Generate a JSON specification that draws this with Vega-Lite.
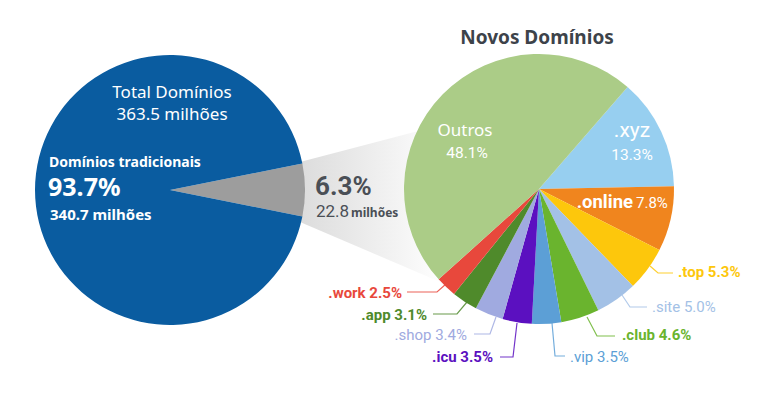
{
  "$schema": "https://vega.github.io/schema/vega-lite/v6.json",
  "width": 768,
  "height": 393,
  "autosize": {"type": "fit", "contains": "padding"},
  "padding": 0,
  "background": "#ffffff",
  "config": {"view": {"stroke": null}},
  "resolve": {"scale": {"theta": "independent"}},
  "layer": [
    {
      "data": {"values": [
        {"fx": 300, "top": 162, "bottom": 222},
        {"fx": 445, "top": 124, "bottom": 284}
      ]},
      "mark": {"type": "area", "color": {"gradient": "linear", "x1": 0, "x2": 1, "y1": 0, "y2": 0, "stops": [{"offset": 0, "color": "#dcdcdc"}, {"offset": 0.8, "color": "#f8f8f8"}, {"offset": 1, "color": "#ffffff"}]}},
      "encoding": {
        "x": {"field": "fx", "type": "quantitative", "scale": {"domain": [0, 768], "nice": false, "zero": false}, "axis": null},
        "y": {"field": "top", "type": "quantitative", "scale": {"domain": [0, 393], "nice": false, "zero": false, "reverse": true}, "axis": null},
        "y2": {"field": "bottom"}
      }
    },
    {
      "data": {"values": [
        {"tld": "Novos", "value": 6.3, "ord": 1},
        {"tld": "Tradicionais", "value": 93.7, "ord": 2}
      ]},
      "mark": {"type": "arc", "outerRadius": 135},
      "encoding": {
        "x": {"datum": 170, "type": "quantitative", "stack": null, "scale": {"domain": [0, 768], "nice": false, "zero": false}, "axis": null},
        "y": {"datum": 190, "type": "quantitative", "stack": null, "scale": {"domain": [0, 393], "nice": false, "zero": false, "reverse": true}, "axis": null},
        "theta": {"field": "value", "type": "quantitative", "stack": true, "scale": {"range": [1.3729, 7.6561]}},
        "order": {"field": "ord", "type": "quantitative"},
        "color": {"field": "tld", "type": "nominal", "legend": null, "scale": {"domain": [".xyz", ".online", ".top", ".site", ".club", ".vip", ".icu", ".shop", ".app", ".work", "Outros", "Novos", "Tradicionais"], "range": ["#97cff0", "#f0851e", "#fdc70c", "#a3c1e6", "#6ab42e", "#5c9fd6", "#5b10c0", "#a0aae0", "#4f8a2b", "#e8483c", "#abcc87", "#9d9d9d", "#0a5ca0"]}}
      }
    },
    {
      "data": {"values": [
        {"tld": ".xyz", "value": 13.3, "ord": 1},
        {"tld": ".online", "value": 7.8, "ord": 2},
        {"tld": ".top", "value": 5.3, "ord": 3},
        {"tld": ".site", "value": 5.0, "ord": 4},
        {"tld": ".club", "value": 4.6, "ord": 5},
        {"tld": ".vip", "value": 3.5, "ord": 6},
        {"tld": ".icu", "value": 3.5, "ord": 7},
        {"tld": ".shop", "value": 3.4, "ord": 8},
        {"tld": ".app", "value": 3.1, "ord": 9},
        {"tld": ".work", "value": 2.5, "ord": 10},
        {"tld": "Outros", "value": 48.1, "ord": 11}
      ]},
      "mark": {"type": "arc", "outerRadius": 135},
      "encoding": {
        "x": {"datum": 539, "type": "quantitative", "stack": null, "scale": {"domain": [0, 768], "nice": false, "zero": false}, "axis": null},
        "y": {"datum": 189, "type": "quantitative", "stack": null, "scale": {"domain": [0, 393], "nice": false, "zero": false, "reverse": true}, "axis": null},
        "theta": {"field": "value", "type": "quantitative", "stack": true, "scale": {"range": [0.7156, 6.9988]}},
        "order": {"field": "ord", "type": "quantitative"},
        "color": {"field": "tld", "type": "nominal", "legend": null, "scale": {"domain": [".xyz", ".online", ".top", ".site", ".club", ".vip", ".icu", ".shop", ".app", ".work", "Outros", "Novos", "Tradicionais"], "range": ["#97cff0", "#f0851e", "#fdc70c", "#a3c1e6", "#6ab42e", "#5c9fd6", "#5b10c0", "#a0aae0", "#4f8a2b", "#e8483c", "#abcc87", "#9d9d9d", "#0a5ca0"]}}
      }
    },
    {
      "data": {"values": [
        {"tld": ".work", "i": 1, "px": 407, "py": 292}, {"tld": ".work", "i": 2, "px": 437, "py": 292}, {"tld": ".work", "i": 3, "px": 446, "py": 284},
        {"tld": ".app", "i": 1, "px": 433, "py": 314}, {"tld": ".app", "i": 2, "px": 457, "py": 314}, {"tld": ".app", "i": 3, "px": 467, "py": 302},
        {"tld": ".shop", "i": 1, "px": 474, "py": 334}, {"tld": ".shop", "i": 2, "px": 490, "py": 334}, {"tld": ".shop", "i": 3, "px": 496, "py": 317},
        {"tld": ".icu", "i": 1, "px": 500, "py": 357}, {"tld": ".icu", "i": 2, "px": 513, "py": 357}, {"tld": ".icu", "i": 3, "px": 517, "py": 323},
        {"tld": ".top", "i": 1, "px": 673, "py": 273}, {"tld": ".top", "i": 2, "px": 658, "py": 273}, {"tld": ".top", "i": 3, "px": 650, "py": 266},
        {"tld": ".site", "i": 1, "px": 647, "py": 307}, {"tld": ".site", "i": 2, "px": 630, "py": 307}, {"tld": ".site", "i": 3, "px": 622, "py": 295},
        {"tld": ".club", "i": 1, "px": 615, "py": 336}, {"tld": ".club", "i": 2, "px": 597, "py": 336}, {"tld": ".club", "i": 3, "px": 587, "py": 317},
        {"tld": ".vip", "i": 1, "px": 565, "py": 356}, {"tld": ".vip", "i": 2, "px": 555, "py": 356}, {"tld": ".vip", "i": 3, "px": 552, "py": 323}
      ]},
      "mark": {"type": "line", "strokeWidth": 1.2, "opacity": 0.85},
      "encoding": {
        "x": {"field": "px", "type": "quantitative", "scale": {"domain": [0, 768], "nice": false, "zero": false}, "axis": null},
        "y": {"field": "py", "type": "quantitative", "scale": {"domain": [0, 393], "nice": false, "zero": false, "reverse": true}, "axis": null},
        "order": {"field": "i", "type": "quantitative"},
        "detail": {"field": "tld"},
        "color": {"field": "tld", "type": "nominal", "legend": null, "scale": {"domain": [".xyz", ".online", ".top", ".site", ".club", ".vip", ".icu", ".shop", ".app", ".work", "Outros", "Novos", "Tradicionais"], "range": ["#97cff0", "#f0851e", "#fdc70c", "#a3c1e6", "#6ab42e", "#5c9fd6", "#5b10c0", "#a0aae0", "#4f8a2b", "#e8483c", "#abcc87", "#9d9d9d", "#0a5ca0"]}}
      }
    },
    {
      "data": {"values": [
        {"label": ".work 2.5%", "tld": ".work", "lx": 402, "ly": 293},
        {"label": ".app 3.1%", "tld": ".app", "lx": 427, "ly": 315},
        {"label": ".icu 3.5%", "tld": ".icu", "lx": 493, "ly": 357}
      ]},
      "mark": {"type": "text", "align": "right", "baseline": "middle", "font": "Roboto", "fontSize": 15, "fontWeight": "bold"},
      "encoding": {
        "x": {"field": "lx", "type": "quantitative", "scale": {"domain": [0, 768], "nice": false, "zero": false}, "axis": null},
        "y": {"field": "ly", "type": "quantitative", "scale": {"domain": [0, 393], "nice": false, "zero": false, "reverse": true}, "axis": null},
        "text": {"field": "label"},
        "color": {"field": "tld", "type": "nominal", "legend": null, "scale": {"domain": [".xyz", ".online", ".top", ".site", ".club", ".vip", ".icu", ".shop", ".app", ".work", "Outros", "Novos", "Tradicionais"], "range": ["#97cff0", "#f0851e", "#fdc70c", "#a3c1e6", "#6ab42e", "#5c9fd6", "#5b10c0", "#a0aae0", "#4f8a2b", "#e8483c", "#abcc87", "#9d9d9d", "#0a5ca0"]}}
      }
    },
    {
      "data": {"values": [
        {"label": ".shop 3.4%", "tld": ".shop", "lx": 467, "ly": 335}
      ]},
      "mark": {"type": "text", "align": "right", "baseline": "middle", "font": "Roboto", "fontSize": 15},
      "encoding": {
        "x": {"field": "lx", "type": "quantitative", "scale": {"domain": [0, 768], "nice": false, "zero": false}, "axis": null},
        "y": {"field": "ly", "type": "quantitative", "scale": {"domain": [0, 393], "nice": false, "zero": false, "reverse": true}, "axis": null},
        "text": {"field": "label"},
        "color": {"field": "tld", "type": "nominal", "legend": null, "scale": {"domain": [".xyz", ".online", ".top", ".site", ".club", ".vip", ".icu", ".shop", ".app", ".work", "Outros", "Novos", "Tradicionais"], "range": ["#97cff0", "#f0851e", "#fdc70c", "#a3c1e6", "#6ab42e", "#5c9fd6", "#5b10c0", "#a0aae0", "#4f8a2b", "#e8483c", "#abcc87", "#9d9d9d", "#0a5ca0"]}}
      }
    },
    {
      "data": {"values": [
        {"label": ".top 5.3%", "tld": ".top", "lx": 678, "ly": 272},
        {"label": ".club 4.6%", "tld": ".club", "lx": 622, "ly": 335}
      ]},
      "mark": {"type": "text", "align": "left", "baseline": "middle", "font": "Roboto", "fontSize": 15, "fontWeight": "bold"},
      "encoding": {
        "x": {"field": "lx", "type": "quantitative", "scale": {"domain": [0, 768], "nice": false, "zero": false}, "axis": null},
        "y": {"field": "ly", "type": "quantitative", "scale": {"domain": [0, 393], "nice": false, "zero": false, "reverse": true}, "axis": null},
        "text": {"field": "label"},
        "color": {"field": "tld", "type": "nominal", "legend": null, "scale": {"domain": [".xyz", ".online", ".top", ".site", ".club", ".vip", ".icu", ".shop", ".app", ".work", "Outros", "Novos", "Tradicionais"], "range": ["#97cff0", "#f0851e", "#fdc70c", "#a3c1e6", "#6ab42e", "#5c9fd6", "#5b10c0", "#a0aae0", "#4f8a2b", "#e8483c", "#abcc87", "#9d9d9d", "#0a5ca0"]}}
      }
    },
    {
      "data": {"values": [
        {"label": ".site 5.0%", "tld": ".site", "lx": 652, "ly": 307},
        {"label": ".vip 3.5%", "tld": ".vip", "lx": 570, "ly": 357}
      ]},
      "mark": {"type": "text", "align": "left", "baseline": "middle", "font": "Roboto", "fontSize": 15},
      "encoding": {
        "x": {"field": "lx", "type": "quantitative", "scale": {"domain": [0, 768], "nice": false, "zero": false}, "axis": null},
        "y": {"field": "ly", "type": "quantitative", "scale": {"domain": [0, 393], "nice": false, "zero": false, "reverse": true}, "axis": null},
        "text": {"field": "label"},
        "color": {"field": "tld", "type": "nominal", "legend": null, "scale": {"domain": [".xyz", ".online", ".top", ".site", ".club", ".vip", ".icu", ".shop", ".app", ".work", "Outros", "Novos", "Tradicionais"], "range": ["#97cff0", "#f0851e", "#fdc70c", "#a3c1e6", "#6ab42e", "#5c9fd6", "#5b10c0", "#a0aae0", "#4f8a2b", "#e8483c", "#abcc87", "#9d9d9d", "#0a5ca0"]}}
      }
    },
    {
      "data": {"values": [
        {"label": "Outros", "lx": 465, "ly": 131},
        {"label": "Total Domínios", "lx": 172, "ly": 93},
        {"label": "363.5 milhões", "lx": 172, "ly": 115}
      ]},
      "mark": {"type": "text", "align": "center", "baseline": "middle", "font": "Noto Sans", "fontSize": 17, "color": "#ffffff"},
      "encoding": {
        "x": {"field": "lx", "type": "quantitative", "scale": {"domain": [0, 768], "nice": false, "zero": false}, "axis": null},
        "y": {"field": "ly", "type": "quantitative", "scale": {"domain": [0, 393], "nice": false, "zero": false, "reverse": true}, "axis": null},
        "text": {"field": "label"}
      }
    },
    {
      "data": {"values": [
        {"label": "48.1%", "lx": 467, "ly": 153},
        {"label": "13.3%", "lx": 632, "ly": 155}
      ]},
      "mark": {"type": "text", "align": "center", "baseline": "middle", "font": "Roboto", "fontSize": 15.5, "color": "#ffffff"},
      "encoding": {
        "x": {"field": "lx", "type": "quantitative", "scale": {"domain": [0, 768], "nice": false, "zero": false}, "axis": null},
        "y": {"field": "ly", "type": "quantitative", "scale": {"domain": [0, 393], "nice": false, "zero": false, "reverse": true}, "axis": null},
        "text": {"field": "label"}
      }
    },
    {
      "data": {"values": [
        {"label": ".xyz", "lx": 632, "ly": 131}
      ]},
      "mark": {"type": "text", "align": "center", "baseline": "middle", "font": "Roboto", "fontSize": 21, "color": "#ffffff"},
      "encoding": {
        "x": {"field": "lx", "type": "quantitative", "scale": {"domain": [0, 768], "nice": false, "zero": false}, "axis": null},
        "y": {"field": "ly", "type": "quantitative", "scale": {"domain": [0, 393], "nice": false, "zero": false, "reverse": true}, "axis": null},
        "text": {"field": "label"}
      }
    },
    {
      "data": {"values": [
        {"label": ".online", "lx": 633, "ly": 202}
      ]},
      "mark": {"type": "text", "align": "right", "baseline": "middle", "font": "Roboto", "fontSize": 18.5, "fontWeight": "bold", "color": "#ffffff"},
      "encoding": {
        "x": {"field": "lx", "type": "quantitative", "scale": {"domain": [0, 768], "nice": false, "zero": false}, "axis": null},
        "y": {"field": "ly", "type": "quantitative", "scale": {"domain": [0, 393], "nice": false, "zero": false, "reverse": true}, "axis": null},
        "text": {"field": "label"}
      }
    },
    {
      "data": {"values": [
        {"label": "7.8%", "lx": 636, "ly": 203}
      ]},
      "mark": {"type": "text", "align": "left", "baseline": "middle", "font": "Roboto", "fontSize": 15, "color": "#ffffff"},
      "encoding": {
        "x": {"field": "lx", "type": "quantitative", "scale": {"domain": [0, 768], "nice": false, "zero": false}, "axis": null},
        "y": {"field": "ly", "type": "quantitative", "scale": {"domain": [0, 393], "nice": false, "zero": false, "reverse": true}, "axis": null},
        "text": {"field": "label"}
      }
    },
    {
      "data": {"values": [
        {"label": "Domínios tradicionais", "lx": 49, "ly": 163}
      ]},
      "mark": {"type": "text", "align": "left", "baseline": "middle", "font": "Noto Sans", "fontSize": 14, "fontWeight": "bold", "color": "#ffffff"},
      "encoding": {
        "x": {"field": "lx", "type": "quantitative", "scale": {"domain": [0, 768], "nice": false, "zero": false}, "axis": null},
        "y": {"field": "ly", "type": "quantitative", "scale": {"domain": [0, 393], "nice": false, "zero": false, "reverse": true}, "axis": null},
        "text": {"field": "label"}
      }
    },
    {
      "data": {"values": [
        {"label": "93.7%", "lx": 48, "ly": 188}
      ]},
      "mark": {"type": "text", "align": "left", "baseline": "middle", "font": "Noto Sans", "fontSize": 25, "fontWeight": "bold", "color": "#ffffff"},
      "encoding": {
        "x": {"field": "lx", "type": "quantitative", "scale": {"domain": [0, 768], "nice": false, "zero": false}, "axis": null},
        "y": {"field": "ly", "type": "quantitative", "scale": {"domain": [0, 393], "nice": false, "zero": false, "reverse": true}, "axis": null},
        "text": {"field": "label"}
      }
    },
    {
      "data": {"values": [
        {"label": "340.7 milhões", "lx": 50, "ly": 215}
      ]},
      "mark": {"type": "text", "align": "left", "baseline": "middle", "font": "Noto Sans", "fontSize": 15, "fontWeight": "bold", "color": "#ffffff"},
      "encoding": {
        "x": {"field": "lx", "type": "quantitative", "scale": {"domain": [0, 768], "nice": false, "zero": false}, "axis": null},
        "y": {"field": "ly", "type": "quantitative", "scale": {"domain": [0, 393], "nice": false, "zero": false, "reverse": true}, "axis": null},
        "text": {"field": "label"}
      }
    },
    {
      "data": {"values": [
        {"label": "Novos Domínios", "lx": 537, "ly": 38}
      ]},
      "mark": {"type": "text", "align": "center", "baseline": "middle", "font": "Noto Sans", "fontSize": 19, "fontWeight": "bold", "color": "#3d434a"},
      "encoding": {
        "x": {"field": "lx", "type": "quantitative", "scale": {"domain": [0, 768], "nice": false, "zero": false}, "axis": null},
        "y": {"field": "ly", "type": "quantitative", "scale": {"domain": [0, 393], "nice": false, "zero": false, "reverse": true}, "axis": null},
        "text": {"field": "label"}
      }
    },
    {
      "data": {"values": [
        {"label": "6.3%", "lx": 315, "ly": 187}
      ]},
      "mark": {"type": "text", "align": "left", "baseline": "middle", "font": "Roboto", "fontSize": 26, "fontWeight": "bold", "color": "#4a4f56"},
      "encoding": {
        "x": {"field": "lx", "type": "quantitative", "scale": {"domain": [0, 768], "nice": false, "zero": false}, "axis": null},
        "y": {"field": "ly", "type": "quantitative", "scale": {"domain": [0, 393], "nice": false, "zero": false, "reverse": true}, "axis": null},
        "text": {"field": "label"}
      }
    },
    {
      "data": {"values": [
        {"label": "22.8", "lx": 316, "ly": 212}
      ]},
      "mark": {"type": "text", "align": "left", "baseline": "middle", "font": "Roboto", "fontSize": 17, "color": "#4a4f56"},
      "encoding": {
        "x": {"field": "lx", "type": "quantitative", "scale": {"domain": [0, 768], "nice": false, "zero": false}, "axis": null},
        "y": {"field": "ly", "type": "quantitative", "scale": {"domain": [0, 393], "nice": false, "zero": false, "reverse": true}, "axis": null},
        "text": {"field": "label"}
      }
    },
    {
      "data": {"values": [
        {"label": "milhões", "lx": 351, "ly": 213}
      ]},
      "mark": {"type": "text", "align": "left", "baseline": "middle", "font": "Noto Sans", "fontSize": 12, "fontWeight": "bold", "color": "#4a4f56"},
      "encoding": {
        "x": {"field": "lx", "type": "quantitative", "scale": {"domain": [0, 768], "nice": false, "zero": false}, "axis": null},
        "y": {"field": "ly", "type": "quantitative", "scale": {"domain": [0, 393], "nice": false, "zero": false, "reverse": true}, "axis": null},
        "text": {"field": "label"}
      }
    }
  ]
}
